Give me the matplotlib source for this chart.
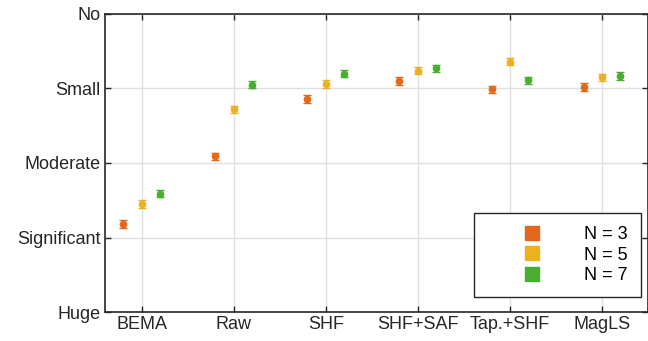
import matplotlib.pyplot as plt
from matplotlib.lines import Line2D

plt.rcParams['font.family'] = ['Liberation Sans', 'DejaVu Sans']

# data
methods = ['BEMA', 'Raw', 'SHF', 'SHF+SAF', 'Tap.+SHF', 'MagLS']
rating_labels = ['Huge', 'Significant', 'Moderate', 'Small', 'No']
n3 = [1.18, 2.09, 2.86, 3.10, 2.99, 3.02]
n5 = [1.45, 2.72, 3.06, 3.24, 3.36, 3.15]
n7 = [1.59, 3.05, 3.20, 3.27, 3.11, 3.17]
err3 = [0.05, 0.05, 0.05, 0.05, 0.05, 0.05]
err5 = [0.05, 0.05, 0.05, 0.05, 0.05, 0.05]
err7 = [0.05, 0.05, 0.05, 0.05, 0.05, 0.05]
series_labels = ['N = 3', 'N = 5', 'N = 7']
colors = ['#E4671B', '#EDB120', '#47AE30']

fig = plt.figure(figsize=(6.48, 3.41), dpi=100)
ax = fig.add_axes([0.162, 0.085, 0.838, 0.874])

x = list(range(1, len(methods) + 1))
offsets = [-0.2, 0.0, 0.2]
for vals, errs, off, c in zip([n3, n5, n7], [err3, err5, err7], offsets, colors):
    ax.errorbar([xi + off for xi in x], vals, yerr=errs, fmt='o', color=c,
                markersize=4.5, capsize=3, elinewidth=1, capthick=1, zorder=3)

ax.set_xlim(0.6, 6.5)
ax.set_ylim(0, 4)
ax.set_xticks(x)
ax.set_xticklabels(methods)
ax.set_yticks(range(5))
ax.set_yticklabels(rating_labels)
ax.grid(True, color='#e0e0e0', linewidth=1)
ax.set_axisbelow(True)
ax.tick_params(direction='in', top=True, right=True, labelsize=13,
               color='#262626', labelcolor='#262626', length=4, width=1,
               pad=3)
for s in ax.spines.values():
    s.set_color('#262626')
    s.set_linewidth(1.2)

handles = [Line2D([], [], linestyle='none', marker='s', markersize=9.5,
                  color=c) for c in colors]
leg = ax.legend(handles, series_labels, loc='lower right',
                bbox_to_anchor=(0.987, 0.05), borderaxespad=0, fontsize=13,
                fancybox=False, edgecolor='#262626', framealpha=1,
                handlelength=5.0, handletextpad=0.39, borderpad=0.72,
                labelspacing=0.2)
leg.get_frame().set_linewidth(1)

fig.savefig('out.png', dpi=100)
